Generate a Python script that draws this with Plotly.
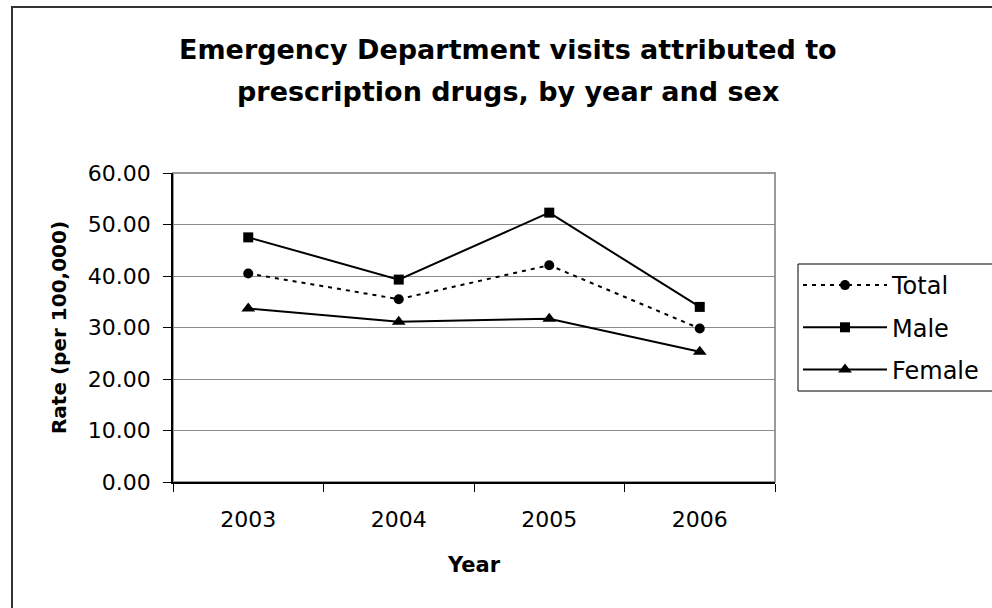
import plotly.graph_objects as go

years = ["2003", "2004", "2005", "2006"]
total = [40.5, 35.5, 42.1, 29.8]
male = [47.5, 39.3, 52.3, 34.0]
female = [33.7, 31.1, 31.7, 25.3]
series_names = ["Total", "Male", "Female"]
y_ticks = [0, 10, 20, 30, 40, 50, 60]
y_tick_labels = ["0.00", "10.00", "20.00", "30.00", "40.00", "50.00", "60.00"]

FONT = "DejaVu Sans, Liberation Sans, Arial, sans-serif"

# plot-area pixel geometry
L, R, T, B = 173, 775, 173, 482
W, H = 992, 608
pw, ph = R - L, B - T

def px(x):
    return (x - L) / pw

def py(y):
    return (B - y) / ph

fig = go.Figure()
fig.add_trace(go.Scatter(
    x=years, y=total, name=series_names[0], mode="lines+markers", legendgroup="t",
    line=dict(color="black", width=2, dash="4px,5px"),
    marker=dict(symbol="circle", size=10, color="black")))
fig.add_trace(go.Scatter(
    x=years, y=male, name=series_names[1], mode="lines+markers", legendgroup="m",
    line=dict(color="black", width=2),
    marker=dict(symbol="square", size=10, color="black")))
fig.add_trace(go.Scatter(
    x=years, y=female, name=series_names[2], mode="lines+markers", legendgroup="f",
    line=dict(color="black", width=2),
    marker=dict(symbol="triangle-up", size=12, color="black")))

shapes = [
    # plot area border (gray)
    dict(type="rect", xref="paper", yref="paper", x0=0, x1=1, y0=0, y1=1,
         line=dict(color="#9a9a9a", width=2), layer="below"),
    # outer chart border
    dict(type="rect", xref="paper", yref="paper",
         x0=px(12), x1=px(1010), y0=py(7), y1=py(630),
         line=dict(color="#333333", width=2), layer="below"),
    # legend frame (runs past the right edge as in the original)
    dict(type="rect", xref="paper", yref="paper",
         x0=px(798), x1=px(1010), y0=py(264), y1=py(391),
         line=dict(color="black", width=1), fillcolor="white", layer="below"),
]

annotations = [
    dict(text="<b>Emergency Department visits attributed to</b>", xref="paper", yref="paper",
         x=px(508), y=py(50), xanchor="center", yanchor="middle", showarrow=False,
         font=dict(family=FONT, size=27, color="black")),
    dict(text="<b>prescription drugs, by year and sex</b>", xref="paper", yref="paper",
         x=px(508), y=py(92), xanchor="center", yanchor="middle", showarrow=False,
         font=dict(family=FONT, size=27, color="black")),
]

fig.update_layout(
    width=W, height=H,
    margin=dict(l=L, r=W - R, t=T, b=H - B, pad=0, autoexpand=False),
    paper_bgcolor="white", plot_bgcolor="white",
    font=dict(family=FONT, size=22, color="black"),
    shapes=shapes, annotations=annotations,
    showlegend=True,
    legend=dict(xref="container", yref="container",
                x=798 / W, y=1 - 263 / H, xanchor="left", yanchor="top",
                borderwidth=0, bgcolor="rgba(0,0,0,0)",
                font=dict(family=FONT, size=24, color="black"),
                itemwidth=84, tracegroupgap=8,
                traceorder="grouped"),
    xaxis=dict(type="category", range=[-0.5, 3.5], showgrid=False, zeroline=False,
               showline=True, linecolor="black", linewidth=1.5,
               ticks="outside", tickson="boundaries", ticklen=8, tickcolor="black",
               tickwidth=1, ticklabelstandoff=17,
               tickfont=dict(family=FONT, size=22),
               title=dict(text="<b>Year</b>", font=dict(family=FONT, size=21), standoff=26)),
    yaxis=dict(range=[0, 60], tickvals=y_ticks, ticktext=y_tick_labels,
               showgrid=True, gridcolor="#8a8a8a", gridwidth=1, zeroline=False,
               showline=True, linecolor="black", linewidth=1.5,
               ticks="outside", ticklen=8, tickcolor="black", tickwidth=1,
               ticklabelstandoff=8,
               tickfont=dict(family=FONT, size=22),
               title=dict(text="<b>Rate (per 100,000)</b>", font=dict(family=FONT, size=20), standoff=16)),
)

fig.write_html("out.html")
